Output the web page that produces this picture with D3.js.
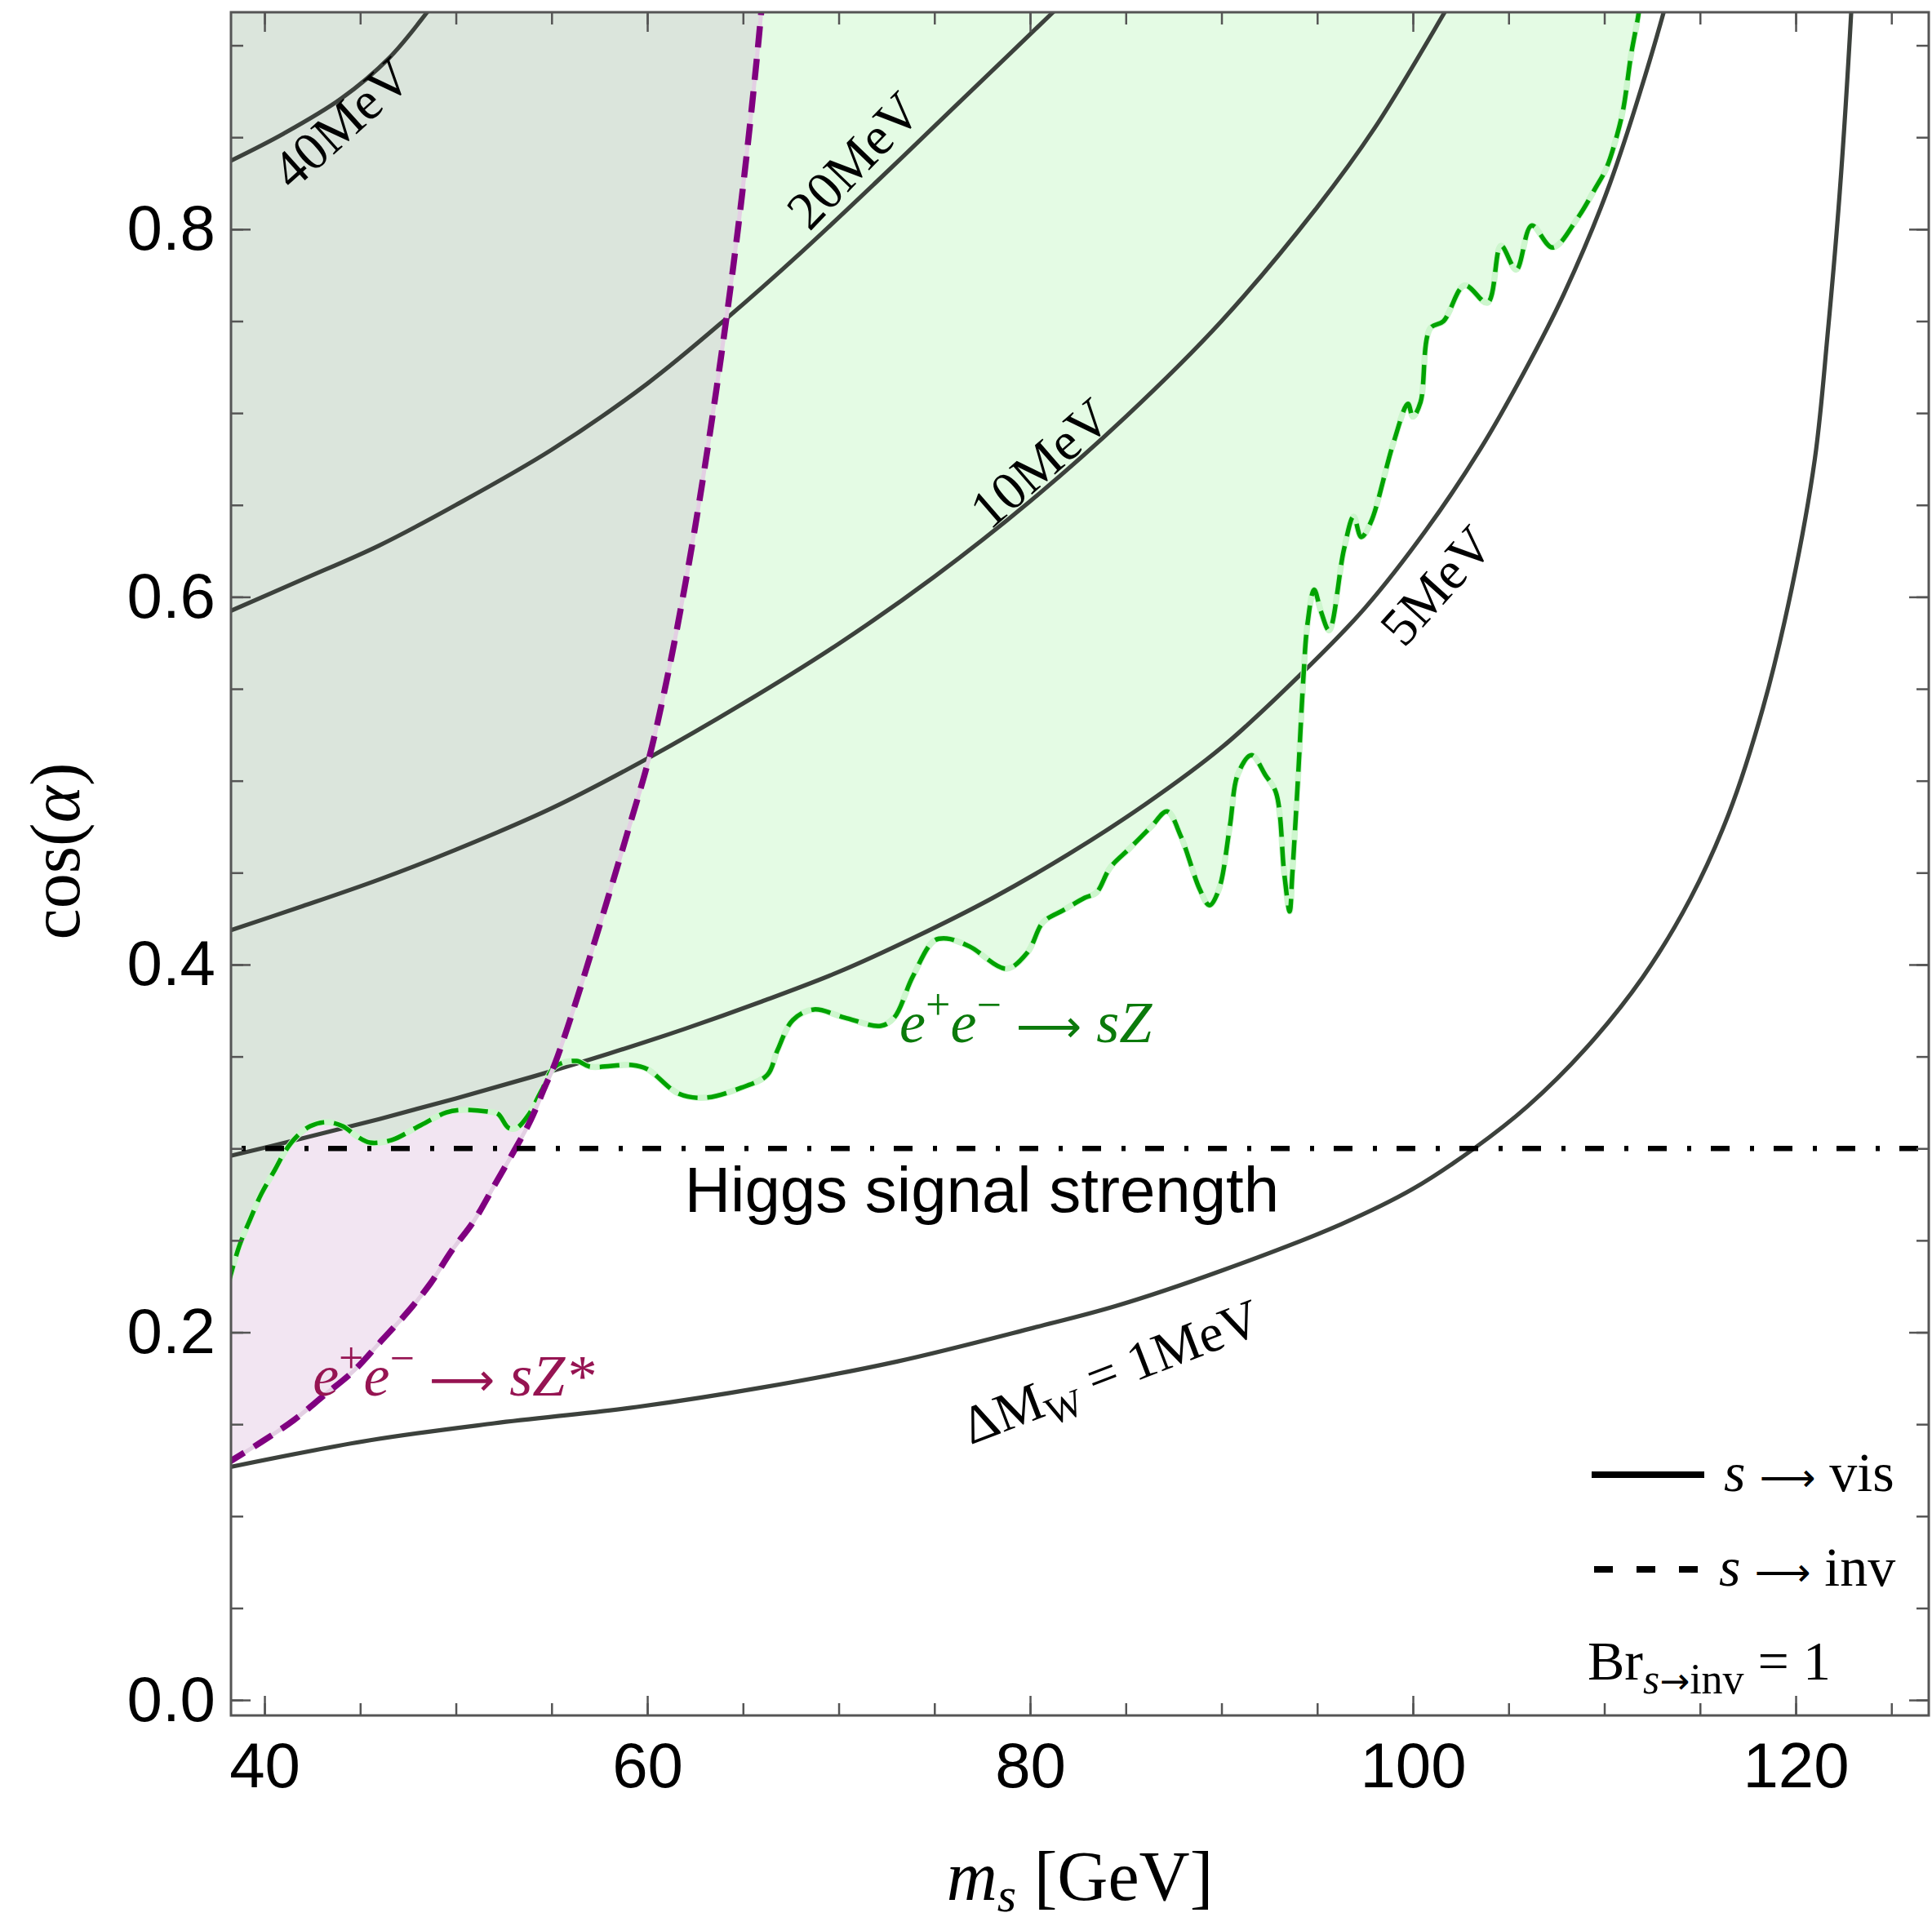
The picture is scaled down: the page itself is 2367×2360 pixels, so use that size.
<!DOCTYPE html>
<html>
<head>
<meta charset="utf-8">
<script src="https://cdn.jsdelivr.net/npm/d3@7"></script>
<style>
  body { margin: 0; background: #ffffff; }
  svg { display: block; }
</style>
</head>
<body>
<svg id="chart" width="2367" height="2360"></svg>
<script>
// ---- axis ticks ----
const massTicks = [40, 60, 80, 100, 120];
const massMinorTicks = [40, 45, 50, 55, 60, 65, 70, 75, 80, 85, 90, 95, 100, 105, 110, 115, 120, 125];
const cosTicks = [0.0, 0.2, 0.4, 0.6, 0.8];
const cosMinorTicks = [0.0, 0.05, 0.1, 0.15, 0.2, 0.25, 0.3, 0.35, 0.4, 0.45, 0.5, 0.55, 0.6, 0.65, 0.7, 0.75, 0.8, 0.85, 0.9];

// ---- Delta M_W contours, [m_s (GeV), cos(alpha)] ----
const dMw40 = [[38.0, 0.836], [41, 0.852], [44, 0.871], [46.5, 0.893], [48.5, 0.918], [49.5, 0.932]];
const dMw20 = [[38.0, 0.5913], [42, 0.6095], [46, 0.628], [50, 0.650], [55, 0.680], [60, 0.716],
               [64.2, 0.752], [68, 0.787], [72, 0.826], [76, 0.866], [79, 0.896], [81.2, 0.918], [82.5, 0.931]];
const dMw10 = [[38.0, 0.4179], [42, 0.4318], [46, 0.4463], [50, 0.4625], [55, 0.485], [60.1, 0.5126],
               [65, 0.542], [70, 0.5745], [75, 0.611], [80, 0.652], [85, 0.698], [90, 0.750],
               [95, 0.812], [98, 0.855], [101.66, 0.918], [102.6, 0.935]];
const dMw5 = [[38.0, 0.2954], [42, 0.3055], [46, 0.3160], [50, 0.3272], [54, 0.3390], [58, 0.3516],
              [62, 0.3652], [66, 0.3800], [70, 0.3960], [74, 0.415], [78, 0.436], [82, 0.460],
              [86, 0.487], [90, 0.518], [94.33, 0.5598], [97.5, 0.594], [100.68, 0.6362],
              [103.5, 0.680], [105.8, 0.722], [107.9, 0.765], [110.3, 0.825], [113.1, 0.918], [113.6, 0.94]];
const dMw1 = [[38.0, 0.1263], [45.46, 0.1412], [52, 0.1505], [59.45, 0.1594], [66, 0.170],
              [73.09, 0.1842], [80.2, 0.2025], [84.52, 0.2144], [90, 0.2335], [96.25, 0.2588],
              [100, 0.278], [103.2, 0.300], [106, 0.323], [109, 0.354], [112, 0.393], [114.5, 0.436],
              [116.5, 0.482], [118.3, 0.540], [119.8, 0.605], [121, 0.675], [121.66, 0.742],
              [122.3, 0.820], [122.9, 0.918], [123.0, 0.94]];

// ---- e+e- -> sZ exclusion boundary (s -> inv) ----
const sZBound = [
  [38.1, 0.226], [38.68, 0.2469], [39.27, 0.2619], [39.83, 0.2752], [40.55, 0.2885], [41.1, 0.2988],
  [41.67, 0.3063], [42.38, 0.3121], [43.24, 0.3143], [44.09, 0.3121], [44.8, 0.3068], [45.5, 0.3032],
  [46.65, 0.3046], [48.06, 0.3121], [49.5, 0.3196], [50.35, 0.321], [51.64, 0.3201], [52.2, 0.3188],
  [52.75, 0.3112], [53.18, 0.3112], [53.77, 0.3179], [54.46, 0.3312], [55.18, 0.3445], [56.3, 0.3476],
  [57.0, 0.3445], [59.19, 0.3454], [60.0, 0.3432], [61.62, 0.3299], [63.0, 0.3276], [64.9, 0.333],
  [66.27, 0.340], [66.8, 0.3534], [67.6, 0.3698], [68.7, 0.3756], [70.3, 0.3712], [72.2, 0.3667],
  [72.9, 0.3712], [73.86, 0.3933], [74.97, 0.4129], [75.65, 0.4142], [76.85, 0.4098], [78.76, 0.3978],
  [79.87, 0.4067], [80.68, 0.4231], [81.75, 0.4297], [82.86, 0.4364], [83.46, 0.4391], [84.18, 0.4527],
  [85.17, 0.4629], [86.31, 0.4748], [87.16, 0.4833], [87.88, 0.4697], [88.87, 0.4408], [89.37, 0.4323],
  [89.86, 0.4408], [90.43, 0.4748], [90.86, 0.5037], [91.57, 0.5139], [92.3, 0.503], [92.85, 0.4935],
  [93.28, 0.4493], [93.56, 0.4289], [93.7, 0.4493], [93.99, 0.5002], [94.27, 0.5546], [94.49, 0.5852],
  [94.84, 0.6039], [95.2, 0.592], [95.62, 0.5818], [96.4, 0.626], [96.9, 0.6437], [97.3, 0.6326],
  [97.8, 0.6406], [98.98, 0.6837], [99.74, 0.705], [100.0, 0.698], [100.4, 0.706], [100.9, 0.746],
  [101.6, 0.750], [102.7, 0.7694], [103.9, 0.760], [104.6, 0.791], [105.4, 0.778], [106.2, 0.802],
  [107.3, 0.790], [108.6, 0.806], [109.55, 0.8226], [110.1, 0.833], [110.66, 0.851], [111.0, 0.866],
  [111.4, 0.895], [111.8, 0.918], [111.9, 0.93]
];

// ---- e+e- -> sZ* exclusion boundary (s -> inv) ----
const sZstarBound = [
  [38.0, 0.1285], [39.83, 0.1403], [41.54, 0.1523], [43.1, 0.1656], [44.65, 0.1789], [46.1, 0.1953],
  [47.5, 0.2113], [48.66, 0.2264], [49.77, 0.2442], [50.92, 0.2602], [52.07, 0.281], [53.05, 0.2988],
  [53.9, 0.3152], [54.63, 0.333], [55.18, 0.3463], [56.2, 0.3774], [57.0, 0.404], [57.95, 0.4364],
  [59.0, 0.473], [60.1, 0.5126], [61.0, 0.5539], [62.0, 0.6079], [63.0, 0.6704], [64.2, 0.7566],
  [65.1, 0.832], [65.9, 0.912], [66.2, 0.95]
];

// Higgs signal strength bound
const higgsBound = 0.30;

// ---- layout ----
const frame = { left: 283, right: 2363, top: 15, bottom: 2102 };
const x = d3.scaleLinear().domain([38.25, 126.95]).range([frame.left, frame.right]);
const y = d3.scaleLinear().domain([-0.0084, 0.918]).range([frame.bottom, frame.top]);

const serif = "'Liberation Serif', 'Times New Roman', serif";
const sans = "'Liberation Sans', Arial, sans-serif";
const arrowFont = "'DejaVu Sans', sans-serif";
const NBSP = "\u00a0";

const svg = d3.select("#chart");
const defs = svg.append("defs");

defs.append("clipPath").attr("id", "plotClip")
  .append("rect")
  .attr("x", frame.left).attr("y", frame.top)
  .attr("width", frame.right - frame.left).attr("height", frame.bottom - frame.top);

const curve = d3.line()
  .x(d => x(d[0])).y(d => y(d[1]))
  .curve(d3.curveCatmullRom.alpha(0.5));

// region above a boundary, closed through the top-left of the plot
function regionAbove(pts) {
  const last = pts[pts.length - 1];
  return curve(pts) +
    `L${x(last[0])},${y(1.2)}L${x(30)},${y(1.2)}L${x(30)},${y(pts[0][1])}Z`;
}

defs.append("clipPath").attr("id", "sZstarClip")
  .append("path").attr("d", regionAbove(sZstarBound));

const plot = svg.append("g").attr("clip-path", "url(#plotClip)");

// shaded exclusion regions
plot.append("path").attr("d", regionAbove(sZstarBound)).attr("fill", "#f2e5f2");
plot.append("path").attr("d", regionAbove(sZBound)).attr("fill", "#e4fbe4");
plot.append("g").attr("clip-path", "url(#sZstarClip)")
  .append("path").attr("d", regionAbove(sZBound)).attr("fill", "#dbe5dc");

// Delta M_W contours (s -> vis)
[dMw1, dMw5, dMw10, dMw20, dMw40].forEach(c => {
  plot.append("path").attr("d", curve(c))
    .attr("fill", "none").attr("stroke", "#3c413c").attr("stroke-width", 5.2);
});

// boundaries of the invisible-decay searches
plot.append("path").attr("d", curve(sZBound))
  .attr("fill", "none").attr("stroke", "#cdf6cd").attr("stroke-width", 7.5);
plot.append("path").attr("d", curve(sZBound))
  .attr("fill", "none").attr("stroke", "#00a300").attr("stroke-width", 5.5)
  .attr("stroke-dasharray", "24,12");

plot.append("path").attr("d", curve(sZstarBound))
  .attr("fill", "none").attr("stroke", "#e3cfe3").attr("stroke-width", 5);
plot.append("path").attr("d", curve(sZstarBound))
  .attr("fill", "none").attr("stroke", "#800080").attr("stroke-width", 7.5)
  .attr("stroke-dasharray", "26,14");

// Higgs signal strength line
plot.append("line")
  .attr("x1", x(38.25)).attr("x2", x(126.95))
  .attr("y1", y(higgsBound)).attr("y2", y(higgsBound))
  .attr("stroke", "#000").attr("stroke-width", 6.5)
  .attr("stroke-dasharray", "23,25,5,24").attr("stroke-dashoffset", 35);

// ---- annotations ----
const ann = svg.append("g");

function contourLabel(m, c, angle, build) {
  const t = ann.append("text")
    .attr("transform", `translate(${x(m)},${y(c)}) rotate(${angle})`)
    .attr("text-anchor", "middle")
    .attr("font-family", serif).attr("font-size", 66).attr("fill", "#000");
  build(t);
  return t;
}
contourLabel(44.0, 0.858, -42, t => t.append("tspan").attr("dy", "0.35em").text("40MeV"));
contourLabel(70.75, 0.8377, -46, t => t.append("tspan").attr("dy", "0.35em").text("20MeV"));
contourLabel(80.5, 0.673, -41, t => t.append("tspan").attr("dy", "0.35em").text("10MeV"));
contourLabel(101.2, 0.6064, -48, t => t.append("tspan").attr("dy", "0.35em").text("5MeV"));
contourLabel(84.2, 0.179, -21, t => {
  t.append("tspan").attr("dy", "0.35em").text("ΔM");
  t.append("tspan").attr("dy", 14).attr("font-size", 48).text("W");
  t.append("tspan").attr("dy", -14).text(" = 1MeV");
});

ann.append("text")
  .attr("x", x(77.48)).attr("y", y(0.2655))
  .attr("text-anchor", "middle")
  .attr("font-family", sans).attr("font-size", 78).attr("fill", "#000")
  .text("Higgs signal strength");

function processLabel(m, c, color, tail) {
  const t = ann.append("text")
    .attr("x", x(m)).attr("y", y(c))
    .attr("font-family", serif).attr("font-size", 72).attr("fill", color);
  t.append("tspan").attr("font-style", "italic").text("e");
  t.append("tspan").attr("dy", -28).attr("font-size", 54).text("+");
  t.append("tspan").attr("dy", 28).attr("font-style", "italic").text("e");
  t.append("tspan").attr("dy", -28).attr("font-size", 54).text("−");
  t.append("tspan").attr("dy", 28).text(NBSP);
  t.append("tspan").attr("font-family", arrowFont).attr("font-size", 56).text("⟶");
  t.append("tspan").text(NBSP);
  t.append("tspan").attr("font-style", "italic").text(tail);
}
processLabel(73.18, 0.3578, "#0b7a0b", "sZ");
processLabel(42.52, 0.1656, "#961452", "sZ*");

// ---- legend ----
const leg = svg.append("g").attr("font-family", serif).attr("font-size", 68).attr("fill", "#000");
leg.append("line").attr("x1", 1950).attr("x2", 2088).attr("y1", 1807).attr("y2", 1807)
  .attr("stroke", "#000").attr("stroke-width", 8);
const t1 = leg.append("text").attr("x", 2112).attr("y", 1827);
t1.append("tspan").attr("font-style", "italic").text("s");
t1.append("tspan").text(NBSP);
t1.append("tspan").attr("font-family", arrowFont).attr("font-size", 48).text("⟶");
t1.append("tspan").text(NBSP + "vis");

leg.append("line").attr("x1", 1953).attr("x2", 2080).attr("y1", 1923).attr("y2", 1923)
  .attr("stroke", "#000").attr("stroke-width", 8).attr("stroke-dasharray", "23,29");
const t2 = leg.append("text").attr("x", 2106).attr("y", 1943);
t2.append("tspan").attr("font-style", "italic").text("s");
t2.append("tspan").text(NBSP);
t2.append("tspan").attr("font-family", arrowFont).attr("font-size", 48).text("⟶");
t2.append("tspan").text(NBSP + "inv");

const t3 = leg.append("text").attr("x", 1945).attr("y", 2058);
t3.append("tspan").text("Br");
t3.append("tspan").attr("dy", 17).attr("font-size", 52).attr("font-style", "italic").text("s");
t3.append("tspan").attr("font-family", arrowFont).attr("font-size", 44).text("→");
t3.append("tspan").attr("font-size", 52).text("inv");
t3.append("tspan").attr("dy", -17).text(NBSP + "=" + NBSP + "1");

// ---- frame and ticks ----
const axisColor = "#555";
function styleAxis(g) {
  g.select(".domain").remove();
  g.selectAll(".tick line").attr("stroke", axisColor).attr("stroke-width", 2.5);
  g.selectAll("text").attr("font-family", sans).attr("font-size", 78).attr("fill", "#000");
}

svg.append("g").attr("transform", `translate(0,${frame.bottom})`)
  .call(d3.axisBottom(x).tickValues(massMinorTicks).tickSize(-15).tickFormat(""))
  .call(styleAxis);
svg.append("g").attr("transform", `translate(0,${frame.bottom})`)
  .call(d3.axisBottom(x).tickValues(massTicks).tickSize(-24).tickPadding(33).tickFormat(d3.format("d")))
  .call(styleAxis);
svg.append("g").attr("transform", `translate(0,${frame.top})`)
  .call(d3.axisTop(x).tickValues(massMinorTicks).tickSize(-15).tickFormat(""))
  .call(styleAxis);
svg.append("g").attr("transform", `translate(0,${frame.top})`)
  .call(d3.axisTop(x).tickValues(massTicks).tickSize(-24).tickFormat(""))
  .call(styleAxis);

svg.append("g").attr("transform", `translate(${frame.left},0)`)
  .call(d3.axisLeft(y).tickValues(cosMinorTicks).tickSize(-15).tickFormat(""))
  .call(styleAxis);
svg.append("g").attr("transform", `translate(${frame.left},0)`)
  .call(d3.axisLeft(y).tickValues(cosTicks).tickSize(-24).tickPadding(19).tickFormat(d3.format(".1f")))
  .call(styleAxis);
svg.append("g").attr("transform", `translate(${frame.right},0)`)
  .call(d3.axisRight(y).tickValues(cosMinorTicks).tickSize(-15).tickFormat(""))
  .call(styleAxis);
svg.append("g").attr("transform", `translate(${frame.right},0)`)
  .call(d3.axisRight(y).tickValues(cosTicks).tickSize(-24).tickFormat(""))
  .call(styleAxis);

svg.append("rect")
  .attr("x", frame.left).attr("y", frame.top)
  .attr("width", frame.right - frame.left).attr("height", frame.bottom - frame.top)
  .attr("fill", "none").attr("stroke", axisColor).attr("stroke-width", 3);

// ---- axis titles ----
const xt = svg.append("text")
  .attr("x", (frame.left + frame.right) / 2).attr("y", 2328)
  .attr("text-anchor", "middle")
  .attr("font-family", serif).attr("font-size", 86).attr("fill", "#000");
xt.append("tspan").attr("font-style", "italic").text("m");
xt.append("tspan").attr("dy", 14).attr("font-size", 60).attr("font-style", "italic").text("s");
xt.append("tspan").attr("dy", -14).text(NBSP + "[GeV]");

const yt = svg.append("text")
  .attr("transform", `translate(97,1043) rotate(-90)`)
  .attr("text-anchor", "middle")
  .attr("font-family", serif).attr("font-size", 86).attr("fill", "#000");
yt.append("tspan").text("cos(");
yt.append("tspan").attr("font-style", "italic").text("α");
yt.append("tspan").text(")");
</script>
</body>
</html>
